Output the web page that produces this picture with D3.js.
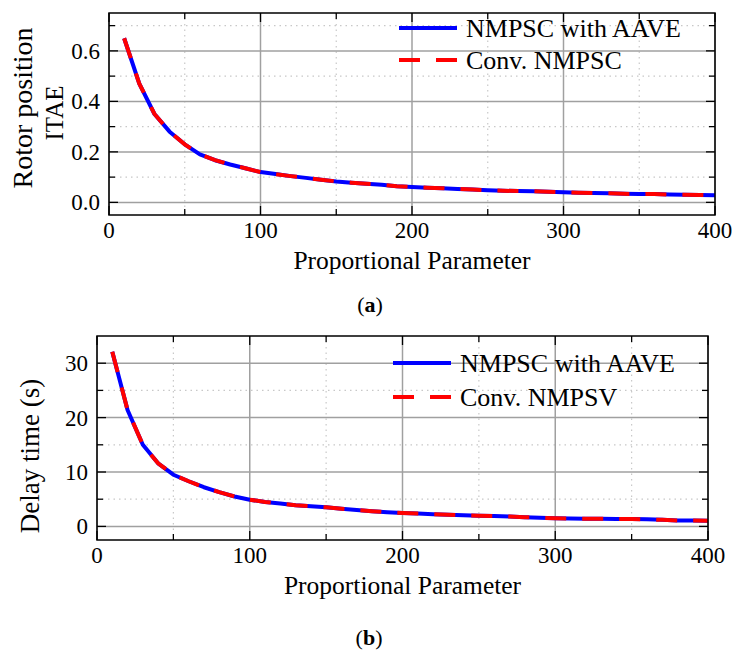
<!DOCTYPE html>
<html>
<head>
<meta charset="utf-8">
<script src="https://cdn.jsdelivr.net/npm/d3@7"></script>
<style>
  html, body { margin: 0; padding: 0; background: #fff; }
  svg { display: block; }
  svg text { font-family: "Liberation Serif", "Times New Roman", serif; fill: #000; }
</style>
</head>
<body>
<svg id="fig" width="732" height="653"></svg>
<script>
// Proportional parameter sweep (shared x values for both panels)
const kp = [10, 20, 30, 40, 50, 60, 70, 80, 90, 100,
            110, 120, 130, 140, 150, 160, 170, 180, 190, 200,
            210, 220, 230, 240, 250, 260, 270, 280, 290, 300,
            310, 320, 330, 340, 350, 360, 370, 380, 390, 400];

// (a) Rotor position ITAE
const itaeAAVE = [0.650, 0.470, 0.350, 0.280, 0.230, 0.190, 0.167, 0.150, 0.135, 0.120,
                  0.112, 0.104, 0.097, 0.090, 0.083, 0.078, 0.074, 0.070, 0.064, 0.061,
                  0.058, 0.056, 0.053, 0.051, 0.048, 0.046, 0.045, 0.044, 0.042, 0.040,
                  0.038, 0.037, 0.036, 0.034, 0.033, 0.033, 0.031, 0.030, 0.029, 0.028];
const itaeConv = [0.650, 0.470, 0.350, 0.280, 0.230, 0.190, 0.167, 0.150, 0.135, 0.120,
                  0.112, 0.104, 0.097, 0.090, 0.083, 0.078, 0.074, 0.070, 0.064, 0.061,
                  0.058, 0.056, 0.053, 0.051, 0.048, 0.046, 0.045, 0.044, 0.042, 0.040,
                  0.038, 0.037, 0.036, 0.034, 0.033, 0.033, 0.031, 0.030, 0.029, 0.028];

// (b) Delay time in seconds
const delayAAVE = [32.1, 21.4, 15.0, 11.6, 9.5, 8.3, 7.2, 6.3, 5.5, 4.9,
                   4.5, 4.2, 3.9, 3.7, 3.5, 3.25, 3.0, 2.8, 2.6, 2.45,
                   2.35, 2.25, 2.15, 2.05, 1.96, 1.9, 1.8, 1.7, 1.6, 1.5,
                   1.45, 1.42, 1.4, 1.38, 1.35, 1.3, 1.2, 1.1, 1.07, 1.04];
const delayConv = [32.1, 21.4, 15.0, 11.6, 9.5, 8.3, 7.2, 6.3, 5.5, 4.9,
                   4.5, 4.2, 3.9, 3.7, 3.5, 3.25, 3.0, 2.8, 2.6, 2.45,
                   2.35, 2.25, 2.15, 2.05, 1.96, 1.9, 1.8, 1.7, 1.6, 1.5,
                   1.45, 1.42, 1.4, 1.38, 1.35, 1.3, 1.2, 1.1, 1.07, 1.04];

// Tick values
const xMajor = [0, 100, 200, 300, 400];
const xMinor = [50, 150, 250, 350];
const yMajorA = [0.0, 0.2, 0.4, 0.6];
const yMinorA = [0.1, 0.3, 0.5, 0.7];
const yMajorB = [0, 10, 20, 30];
const yMinorB = [5, 15, 25];

const legendA = ["NMPSC with AAVE", "Conv. NMPSC"];
const legendB = ["NMPSC with AAVE", "Conv. NMPSV"];

const svg = d3.select("#fig");
const BLUE = "#0000ff", RED = "#ff0000";
const DASH = "21,16";

function panel(o) {
  const g = svg.append("g");
  const x = d3.scaleLinear().domain([0, 400]).range([o.left, o.right]);
  const y = d3.scaleLinear().domain(o.yDomain).range([o.bottom, o.top]);
  const w = o.right - o.left, h = o.bottom - o.top;

  // minor grid (dotted)
  const grid = g.append("g");
  grid.selectAll(".vmin").data(xMinor).join("line")
    .attr("x1", d => x(d)).attr("x2", d => x(d)).attr("y1", o.top).attr("y2", o.bottom)
    .attr("stroke", "#c8c8c8").attr("stroke-width", 1.2).attr("stroke-dasharray", "1.5,4");
  grid.selectAll(".hmin").data(o.yMinor).join("line")
    .attr("y1", d => y(d)).attr("y2", d => y(d)).attr("x1", o.left).attr("x2", o.right)
    .attr("stroke", "#c8c8c8").attr("stroke-width", 1.2).attr("stroke-dasharray", "1.5,4");
  // major grid (solid)
  grid.selectAll(".vmaj").data(xMajor).join("line")
    .attr("x1", d => x(d)).attr("x2", d => x(d)).attr("y1", o.top).attr("y2", o.bottom)
    .attr("stroke", "#a0a0a0").attr("stroke-width", 1.5);
  grid.selectAll(".hmaj").data(o.yMajor).join("line")
    .attr("y1", d => y(d)).attr("y2", d => y(d)).attr("x1", o.left).attr("x2", o.right)
    .attr("stroke", "#a0a0a0").attr("stroke-width", 1.5);

  // inward ticks on all four sides
  const ticks = g.append("g").attr("stroke", "#000").attr("stroke-width", 1.3);
  const tk = (vals, len, horiz) => {
    vals.forEach(v => {
      if (horiz) {
        ticks.append("line").attr("x1", x(v)).attr("x2", x(v)).attr("y1", o.bottom).attr("y2", o.bottom - len);
        ticks.append("line").attr("x1", x(v)).attr("x2", x(v)).attr("y1", o.top).attr("y2", o.top + len);
      } else {
        ticks.append("line").attr("y1", y(v)).attr("y2", y(v)).attr("x1", o.left).attr("x2", o.left + len);
        ticks.append("line").attr("y1", y(v)).attr("y2", y(v)).attr("x1", o.right).attr("x2", o.right - len);
      }
    });
  };
  tk(xMajor, 9, true); tk(xMinor, 6, true);
  tk(o.yMajor, 9, false); tk(o.yMinor, 6, false);

  // data lines
  const clipId = "clip" + o.id;
  svg.append("clipPath").attr("id", clipId).append("rect")
    .attr("x", o.left).attr("y", o.top).attr("width", w).attr("height", h);
  const line = d3.line().x((d, i) => x(kp[i])).y(d => y(d));
  const lines = g.append("g").attr("clip-path", `url(#${clipId})`);
  lines.append("path").datum(o.s1).attr("d", line)
    .attr("fill", "none").attr("stroke", BLUE).attr("stroke-width", 4).attr("stroke-linejoin", "round");
  lines.append("path").datum(o.s2).attr("d", line)
    .attr("fill", "none").attr("stroke", RED).attr("stroke-width", 4).attr("stroke-dasharray", DASH);

  // frame
  g.append("rect").attr("x", o.left).attr("y", o.top).attr("width", w).attr("height", h)
    .attr("fill", "none").attr("stroke", "#000").attr("stroke-width", 1.5);

  // tick labels
  g.selectAll(".xl").data(xMajor).join("text")
    .attr("x", d => x(d)).attr("y", o.bottom + 23).attr("text-anchor", "middle")
    .attr("font-size", 23).text(d => d);
  g.selectAll(".yl").data(o.yMajor).join("text")
    .attr("x", o.left - 9).attr("y", d => y(d)).attr("dy", "0.35em").attr("text-anchor", "end")
    .attr("font-size", 23).text(o.yFmt);

  // axis titles
  g.append("text").attr("x", (o.left + o.right) / 2).attr("y", o.bottom + 54)
    .attr("text-anchor", "middle").attr("font-size", 25.5).text("Proportional Parameter");
  o.yTitle.forEach((t, i) => {
    g.append("text")
      .attr("transform", `translate(${o.yTitleX[i]},${o.yTitleY[i]}) rotate(-90)`)
      .attr("text-anchor", "middle").attr("font-size", o.yTitleSize[i]).text(t);
  });

  // legend
  const lg = g.append("g");
  o.legend.forEach((t, i) => {
    const ly = o.legY[i];
    lg.append("line").attr("x1", o.legX).attr("x2", o.legX + 58).attr("y1", ly).attr("y2", ly)
      .attr("stroke", i === 0 ? BLUE : RED).attr("stroke-width", 4)
      .attr("stroke-dasharray", i === 0 ? null : DASH);
    lg.append("text").attr("x", o.legX + 67).attr("y", ly).attr("dy", "0.33em")
      .attr("font-size", 26).text(t);
  });

  // caption
  const cap = g.append("text").attr("x", o.capX).attr("y", o.capY)
    .attr("text-anchor", "middle").attr("font-size", 22);
  cap.append("tspan").text("(");
  cap.append("tspan").attr("font-weight", "bold").text(o.capLetter);
  cap.append("tspan").text(")");
}

panel({
  id: "a", left: 109, right: 715, top: 13, bottom: 215,
  yDomain: [-0.05, 0.75], yMajor: yMajorA, yMinor: yMinorA,
  yFmt: d => d3.format(".1f")(d),
  s1: itaeAAVE, s2: itaeConv,
  yTitle: ["Rotor position", "ITAE"], yTitleX: [32, 63], yTitleY: [108, 113],
  yTitleSize: [28, 25],
  legend: legendA, legX: 399, legY: [28, 60],
  capX: 370, capY: 312, capLetter: "a"
});

panel({
  id: "b", left: 97, right: 708, top: 336, bottom: 540,
  yDomain: [-2.5, 35], yMajor: yMajorB, yMinor: yMinorB,
  yFmt: d => d,
  s1: delayAAVE, s2: delayConv,
  yTitle: ["Delay time (s)"], yTitleX: [39], yTitleY: [456],
  yTitleSize: [27],
  legend: legendB, legX: 393, legY: [363, 397],
  capX: 369, capY: 645, capLetter: "b"
});
</script>
</body>
</html>
